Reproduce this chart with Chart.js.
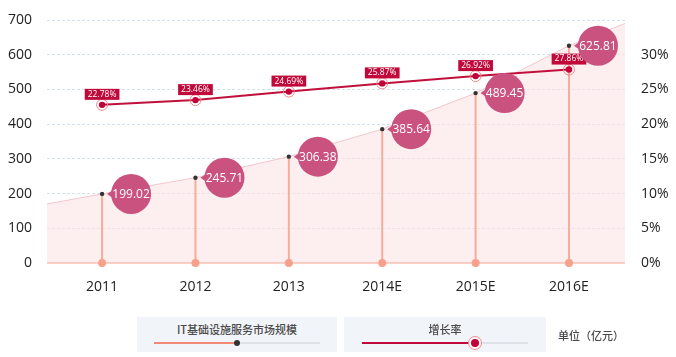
<!DOCTYPE html>
<html>
<head>
<meta charset="utf-8">
<script src="https://cdn.jsdelivr.net/npm/chart.js@4.4.1/dist/chart.umd.min.js"></script>
<style>
  html, body { margin: 0; padding: 0; background: #ffffff; }
  #wrap { position: relative; width: 676px; height: 357px; overflow: hidden; font-family: "Noto Sans CJK SC", "Open Sans", sans-serif; }
  canvas { position: absolute; left: 0; top: 0; }
  .lg { position: absolute; background: #f1f4f8; }
  .lg .t { position: absolute; left: 0; right: 0; top: 4px; text-align: center; font-size: 11px; color: #4a4a4a; font-weight: 500; }
  .lg .trk { position: absolute; height: 2px; background: #dde2e8; }
  .lg .fill { position: absolute; height: 2px; }
  .unit { position: absolute; font-size: 11px; color: #4a4a4a; font-weight: 500; }
</style>
</head>
<body>
<div id="wrap">
  <canvas id="c" width="676" height="357"></canvas>
  <div class="lg" style="left:137px;top:317px;width:200px;height:35px;">
    <div class="t">IT基础设施服务市场规模</div>
    <div class="trk" style="left:17px;top:25px;width:166px;"></div>
    <div class="fill" style="left:17px;top:25px;width:83px;background:#f08a74;"></div>
    <div style="position:absolute;left:97px;top:23px;width:6px;height:6px;border-radius:3px;background:#333;"></div>
  </div>
  <div class="lg" style="left:344px;top:317px;width:202px;height:35px;">
    <div class="t">增长率</div>
    <div class="trk" style="left:18px;top:25px;width:166px;"></div>
    <div class="fill" style="left:18px;top:25px;width:113px;background:#c0083a;"></div>
    <div style="position:absolute;left:124px;top:19px;width:12px;height:12px;border-radius:7px;border:1px solid #f08a8a;background:#fff;"></div>
    <div style="position:absolute;left:127px;top:22px;width:8px;height:8px;border-radius:4px;background:#c4003a;"></div>
  </div>
  <div class="unit" style="left:558px;top:327px;">单位（亿元）</div>
</div>
<script>
const categories = ['2011', '2012', '2013', '2014E', '2015E', '2016E'];
const marketSize = [199.02, 245.71, 306.38, 385.64, 489.45, 625.81];
const growthRate = [22.78, 23.46, 24.69, 25.87, 26.92, 27.86];
const leftTicks = [0, 100, 200, 300, 400, 500, 600, 700];
const rightTicks = [0, 5, 10, 15, 20, 25, 30];
const areaEdgeValues = [170, 690];
const xRange = [-0.59, 5.6];

const sizePoints = marketSize.map((v, i) => ({ x: i, y: v }));
const growthPoints = growthRate.map((v, i) => ({ x: i, y: v }));
const areaPoints = [{ x: xRange[0], y: areaEdgeValues[0] }].concat(sizePoints, [{ x: xRange[1], y: areaEdgeValues[1] }]);

const NUM_FONT = '"Open Sans", "Noto Sans", sans-serif';

const decor = {
  id: 'decor',
  afterDatasetsDraw(chart) {
    const ctx = chart.ctx;
    const xs = chart.scales.x, ys = chart.scales.y;
    ctx.save();
    ctx.fillStyle = '#f7a18d';
    for (let i = 0; i < marketSize.length; i++) {
      ctx.beginPath();
      ctx.arc(xs.getPixelForValue(i), ys.getPixelForValue(0), 4, 0, Math.PI * 2);
      ctx.fill();
    }
    const gm = chart.getDatasetMeta(3);
    ctx.font = '8.5px ' + NUM_FONT;
    ctx.textAlign = 'center';
    ctx.textBaseline = 'middle';
    gm.data.forEach((pt, i) => {
      ctx.beginPath();
      ctx.strokeStyle = '#f08a8a';
      ctx.lineWidth = 1;
      ctx.arc(pt.x, pt.y, 5.5, 0, Math.PI * 2);
      ctx.stroke();
      const txt = growthRate[i].toFixed(2) + '%';
      const w = ctx.measureText(txt).width + 6;
      const h = 11;
      ctx.fillStyle = '#c0083a';
      ctx.fillRect(pt.x - w / 2, pt.y - 16, w, h);
      ctx.fillStyle = '#ffffff';
      ctx.fillText(txt, pt.x, pt.y - 10.5);
    });
    const sm = chart.getDatasetMeta(2);
    ctx.font = '12px ' + NUM_FONT;
    sm.data.forEach((pt, i) => {
      const cx = pt.x + 29, cy = pt.y;
      ctx.fillStyle = '#c9527f';
      ctx.beginPath();
      ctx.moveTo(pt.x + 5, cy);
      ctx.lineTo(pt.x + 15, cy - 7);
      ctx.lineTo(pt.x + 15, cy + 7);
      ctx.closePath();
      ctx.fill();
      ctx.beginPath();
      ctx.arc(cx, cy, 20, 0, Math.PI * 2);
      ctx.fill();
      ctx.fillStyle = '#ffffff';
      ctx.fillText(marketSize[i].toFixed(2), cx, cy + 0.5);
    });
    ctx.restore();
  }
};

new Chart(document.getElementById('c'), {
  data: {
    datasets: [
      {
        type: 'line', label: 'area', data: areaPoints, yAxisID: 'y',
        fill: 'origin', backgroundColor: 'rgba(252,226,228,0.6)', borderColor: '#f2c6cd',
        borderWidth: 1, pointRadius: 0, tension: 0, order: 4
      },
      {
        type: 'bar', label: 'stems', data: sizePoints, yAxisID: 'y',
        backgroundColor: '#f7ab98', barThickness: 1.3, order: 3
      },
      {
        type: 'line', label: 'IT基础设施服务市场规模', data: sizePoints, yAxisID: 'y',
        showLine: false, pointRadius: 2.2, pointBackgroundColor: '#333', pointBorderWidth: 0, order: 2
      },
      {
        type: 'line', label: '增长率', data: growthPoints, yAxisID: 'y1',
        borderColor: '#c0103c', borderWidth: 2, pointRadius: 3.2, pointBackgroundColor: '#c4003a',
        pointBorderWidth: 0, tension: 0, order: 1
      }
    ]
  },
  options: {
    responsive: false,
    devicePixelRatio: 1,
    animation: false,
    layout: { padding: { top: 20, left: 0, right: 0, bottom: 0 } },
    plugins: { legend: { display: false }, tooltip: { enabled: false } },
    scales: {
      x: {
        type: 'linear', min: xRange[0], max: xRange[1], offset: false,
        afterBuildTicks: (s) => { s.ticks = categories.map((c, i) => ({ value: i })); },
        afterFit: (s) => { s.height = 94; s.paddingLeft = 0; s.paddingRight = 0; },
        grid: { display: false, drawTicks: false }, border: { display: false },
        ticks: { callback: (v) => categories[v], font: { size: 14, family: NUM_FONT }, color: '#222', padding: 16, maxRotation: 0, autoSkip: false }
      },
      y: {
        position: 'left', min: 0, max: 700,
        afterBuildTicks: (s) => { s.ticks = leftTicks.map(v => ({ value: v })); },
        afterFit: (s) => { s.width = 47; s.paddingTop = 0; s.paddingBottom = 0; },
        grid: { drawTicks: false, color: (c) => c.tick && c.tick.value === 0 ? '#f6a490' : '#d6e0e8', lineWidth: (c) => c.tick && c.tick.value === 0 ? 1.5 : 1 },
        border: { display: false, dash: (c) => c.tick && c.tick.value === 0 ? [] : [3, 2] },
        ticks: { font: { size: 14, family: NUM_FONT }, color: '#222', padding: 15 }
      },
      y1: {
        position: 'right', min: 0, max: 35,
        afterBuildTicks: (s) => { s.ticks = rightTicks.map(v => ({ value: v })); },
        afterFit: (s) => { s.width = 51; s.paddingTop = 0; s.paddingBottom = 0; },
        grid: { drawOnChartArea: false, drawTicks: false }, border: { display: false },
        ticks: { callback: (v) => v + '%', font: { size: 14, family: NUM_FONT }, color: '#222', padding: 16 }
      }
    }
  },
  plugins: [decor]
});
</script>
</body>
</html>
